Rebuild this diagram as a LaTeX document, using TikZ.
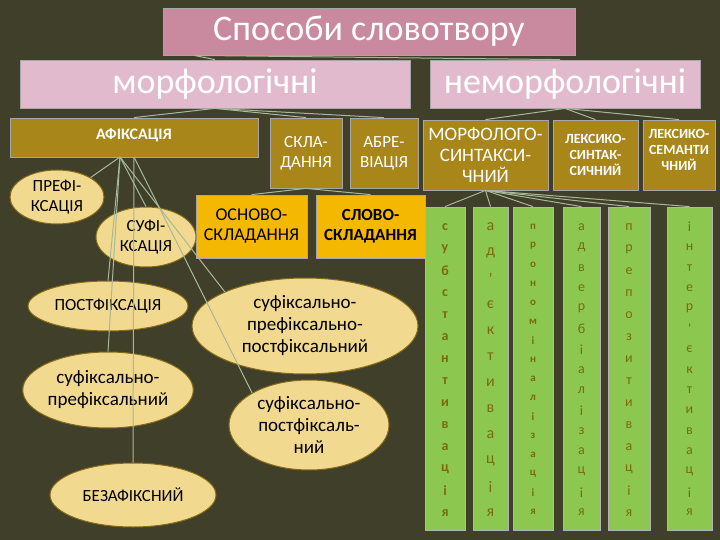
\documentclass[tikz,border=0pt]{standalone}
\usepackage{fontspec}
\setmainfont{Carlito}
\usetikzlibrary{shapes.geometric}
\definecolor{bg}{HTML}{3F3F2A}
\definecolor{pinkA}{HTML}{C98AA0}
\definecolor{pinkB}{HTML}{E2BACD}
\definecolor{olv}{HTML}{A8861A}
\definecolor{gold}{HTML}{F5B800}
\definecolor{grn}{HTML}{8CC850}
\definecolor{ell}{HTML}{F2D990}
\definecolor{lin}{HTML}{A8B898}
\definecolor{gtx}{HTML}{7A6A10}
\begin{document}
\begin{tikzpicture}[x=1pt,y=-1pt,
 box/.style={draw=gray!70, line width=0.8pt, inner sep=0, align=center},
 pk/.style={box, fill=pinkB, text=white, font=\fontsize{36}{38}\selectfont},
 ol/.style={box, fill=olv, text=white, font=\fontsize{16}{18}\selectfont\bfseries},
 gd/.style={box, fill=gold, text=black, font=\fontsize{16}{18}\selectfont},
 gc/.style={draw=gray!60, line width=0.8pt, fill=grn},
 el/.style={ellipse, draw=olv!80!black, line width=1pt, fill=ell, inner sep=0, align=center, font=\fontsize{17}{20}\selectfont},
 cn/.style={draw=lin, line width=1pt},
 lt/.style={text=gtx, font=\fontsize{14}{15}\selectfont}]
\fill[bg] (0,0) rectangle (720,540);
\useasboundingbox (0,0) rectangle (720,540);
% top boxes
\node[box, fill=pinkA, text=white, minimum width=412, minimum height=47, font=\fontsize{36}{38}\selectfont] (t) at (369,31.5) {Способи словотвору};
\node[pk, minimum width=390, minimum height=48] (m) at (215,84) {морфологічні};
\node[pk, minimum width=270, minimum height=48] (n) at (565,84) {неморфологічні};
% olive
\node[ol, minimum width=248, minimum height=39, text depth=6pt] (af) at (134,137.5) {АФІКСАЦІЯ};
\node[ol, minimum width=72, minimum height=70, font=\fontsize{17}{20}\selectfont] (sk) at (306,153) {СКЛА-\\ДАННЯ};
\node[ol, minimum width=68, minimum height=70, font=\fontsize{17}{20}\selectfont] (ab) at (384,153) {АБРЕ-\\ВІАЦІЯ};
\node[ol, minimum width=125, minimum height=70, font=\fontsize{19}{21}\selectfont\mdseries] (ms) at (485.5,155) {МОРФОЛОГО-\\СИНТАКСИ-\\ЧНИЙ};
\node[ol, minimum width=85, minimum height=70, font=\fontsize{14}{16}\selectfont\bfseries] (ls) at (595.5,155) {ЛЕКСИКО-\\СИНТАК-\\СИЧНИЙ};
\node[ol, minimum width=72, minimum height=70, font=\fontsize{14}{16}\selectfont\bfseries, text depth=10pt] (lm) at (679,155) {ЛЕКСИКО-\\СЕМАНТИ\\ЧНИЙ};
% gold
\node[gd, minimum width=111, minimum height=63, font=\fontsize{18}{20}\selectfont] (os) at (251.5,226.5) {ОСНОВО-\\СКЛАДАННЯ};
\node[gd, minimum width=109, minimum height=63, font=\fontsize{17}{20}\selectfont\bfseries] (ss) at (370.5,226.5) {СЛОВО-\\СКЛАДАННЯ};
% green columns
\foreach \nm/\xa/\xb in {c1/425/465,c2/473/508,c3/513/553,c4/563/600,c5/608/650,c6/667/712}
  \node[gc, minimum width={\xb-\xa}, minimum height=323, inner sep=0] (\nm) at ({(\xa+\xb)/2},368.5) {};
\foreach \l [count=\i] in {с,у,б,с,т,а,н,т,и,в,а,ц,і,я}
  \node[lt, font=\fontsize{14}{15}\selectfont\bfseries] at (445,{227+(\i-1)*22}) {\l};
\foreach \l [count=\i] in {а,д,',є,к,т,и,в,а,ц,і,я}
  \node[lt, font=\fontsize{16}{17}\selectfont] at (490.5,{227+(\i-1)*26}) {\l};
\foreach \l [count=\i] in {п,р,о,н,о,м,і,н,а,л,і,з,а,ц,і,я}
  \node[lt, font=\fontsize{11}{12}\selectfont\bfseries] at (533,{227+(\i-1)*19}) {\l};
\foreach \l [count=\i] in {а,д,в,е,р,б,і,а,л,і,з,а,ц,і,я}
  \node[lt] at (581.5,{227+(\i-1)*20.4}) {\l};
\foreach \l [count=\i] in {п,р,е,п,о,з,и,т,и,в,а,ц,і,я}
  \node[lt] at (629,{227+(\i-1)*22}) {\l};
\foreach \l [count=\i] in {і,н,т,е,р,',є,к,т,и,в,а,ц,і,я}
  \node[lt] at (689.5,{227+(\i-1)*20.4}) {\l};
% ellipses
\node[el, minimum width=94, minimum height=54] (e1) at (57,197) {ПРЕФІ-\\КСАЦІЯ};
\node[el, minimum width=100, minimum height=60] (e2) at (146,237) {СУФІ-\\КСАЦІЯ};
\node[el, minimum width=160, minimum height=50] (e3) at (108,306) {ПОСТФІКСАЦІЯ};
\node[el, minimum width=160, minimum height=76, font=\fontsize{19}{22}\selectfont] (e4) at (108,390) {суфіксально-\\префіксальний};
\node[el, minimum width=226, minimum height=96, font=\fontsize{19}{22}\selectfont] (e5) at (305,326) {суфіксально-\\префіксально-\\постфіксальний};
\node[el, minimum width=160, minimum height=90, font=\fontsize{19}{22}\selectfont] (e6) at (309,425) {суфіксально-\\постфіксаль-\\ний};
\node[el, minimum width=166, minimum height=64] (e7) at (133,495) {БЕЗАФІКСНИЙ};
% connectors
\draw[cn] (t.south) ++(-175,0) coordinate (ta) -- (m.north);
\draw[cn] (ta) -- ([xshift=-5]n.north);
\draw[cn] (m.south) -- (af.north);
\draw[cn] (m.south) -- (sk.north);
\draw[cn] (m.south) -- (ab.north);
\draw[cn] (n.south) -- (ms.north);
\draw[cn] (n.south) -- (ls.north);
\draw[cn] (n.south) -- (lm.north);
\draw[cn] (sk.south) -- (os.north);
\draw[cn] (sk.south) -- (ss.north);
\foreach \c in {c1,c2,c3,c4,c5,c6} \draw[cn] (ms.south) -- (\c.north);
\coordinate (ab1) at (120,157);
\coordinate (ab2) at (134,157);
\draw[cn] (ab1) -- (e1.north east);
\draw[cn] (ab1) -- (e2.north);
\draw[cn] (ab1) -- (e3.north);
\draw[cn] (ab1) -- (e4.north);
\draw[cn] (ab2) -- (e7.north);
\draw[cn] (ab1) -- (e5.north west);
\draw[cn] (ab2) -- (e6.north west);
\end{tikzpicture}
\end{document}
